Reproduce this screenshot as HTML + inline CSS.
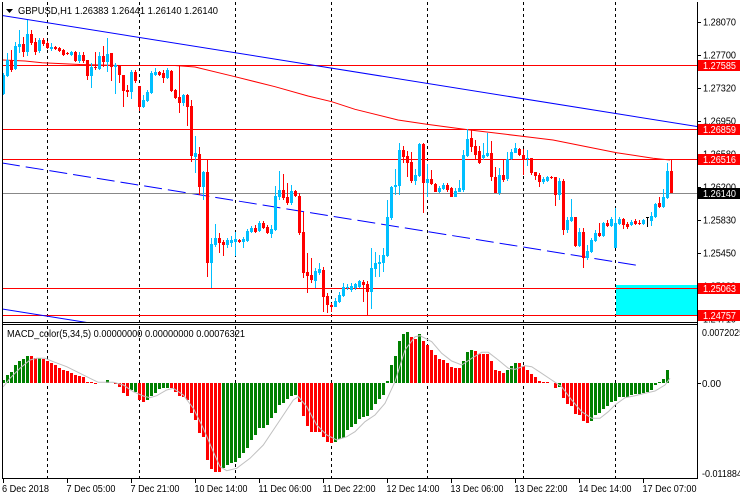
<!DOCTYPE html>
<html>
<head>
<meta charset="utf-8">
<style>
html,body{margin:0;padding:0;background:#fff;}
body{width:740px;height:500px;overflow:hidden;}
svg{display:block;}
text{font-family:"Liberation Sans","DejaVu Sans",sans-serif;}
</style>
</head>
<body>
<svg id="chart" width="740" height="500" viewBox="0 0 740 500" xmlns="http://www.w3.org/2000/svg">
<defs>
<clipPath id="mainclip"><rect x="3" y="0" width="694" height="322"/></clipPath>
<clipPath id="macdclip"><rect x="3" y="325" width="694" height="153"/></clipPath>
<clipPath id="axisclip"><rect x="698" y="0" width="42" height="500"/></clipPath>
</defs>
<rect x="0" y="0" width="740" height="500" fill="#fff"/>

<!-- vertical dashed grid -->
<g stroke="#000" stroke-width="1" stroke-dasharray="3,3" shape-rendering="crispEdges">
<line x1="47.5" y1="2" x2="47.5" y2="478"/>
<line x1="139.5" y1="2" x2="139.5" y2="478"/>
<line x1="235.5" y1="2" x2="235.5" y2="478"/>
<line x1="331.5" y1="2" x2="331.5" y2="478"/>
<line x1="427.5" y1="2" x2="427.5" y2="478"/>
<line x1="523.5" y1="2" x2="523.5" y2="478"/>
<line x1="615.5" y1="2" x2="615.5" y2="478"/>
</g>

<g clip-path="url(#mainclip)">
<!-- cyan rectangle -->
<rect x="616" y="285" width="81" height="30" fill="#00FFFF"/>
<!-- horizontal red lines -->
<g stroke="#FF0000" stroke-width="1" shape-rendering="crispEdges">
<line x1="2" y1="65.5" x2="697" y2="65.5"/>
<line x1="2" y1="129.5" x2="697" y2="129.5"/>
<line x1="2" y1="159.5" x2="697" y2="159.5"/>
<line x1="2" y1="288.5" x2="697" y2="288.5"/>
<line x1="2" y1="315.5" x2="697" y2="315.5"/>
</g>
<!-- moving average -->
<polyline fill="none" stroke="#FF0000" stroke-width="1" points="2,60 25,61 42,62.7 80,64.5 120,65.5 175,65.5 195,67 235,76.7 275,86.7 308,96 331.7,101.7 355,109.3 398,120 426.7,124.3 470,130 520,136 553,140 586.7,146.7 616.7,152.7 653,158.3 670,160"/>
<!-- blue trend lines -->
<line x1="2" y1="15.5" x2="697" y2="126.5" stroke="#0000FF" stroke-width="1"/>
<line x1="2" y1="163" x2="641" y2="266" stroke="#0000FF" stroke-width="1" stroke-dasharray="18,6"/>
<line x1="2" y1="309" x2="90" y2="323" stroke="#0000FF" stroke-width="1"/>
<!-- current price line -->
<line x1="2" y1="193.5" x2="697" y2="193.5" stroke="#888888" stroke-width="1" shape-rendering="crispEdges"/>
<g id="candles" shape-rendering="crispEdges"></g>
</g>

<g clip-path="url(#macdclip)">
<g id="hist" shape-rendering="crispEdges"></g>
<polyline id="sig" fill="none" stroke="#C0C0C0" stroke-width="1" points=""/>
</g>

<!-- frames -->
<g stroke="#000" stroke-width="1" shape-rendering="crispEdges">
<line x1="2.5" y1="2" x2="2.5" y2="479"/>
<line x1="697.5" y1="2" x2="697.5" y2="479"/>
<line x1="2" y1="322.5" x2="698" y2="322.5"/>
<line x1="2" y1="324.5" x2="698" y2="324.5"/>
<line x1="2" y1="478.5" x2="698" y2="478.5"/>
<!-- price ticks -->
<line x1="697" y1="22.5" x2="701" y2="22.5"/>
<line x1="697" y1="55.5" x2="701" y2="55.5"/>
<line x1="697" y1="88.5" x2="701" y2="88.5"/>
<line x1="697" y1="121.5" x2="701" y2="121.5"/>
<line x1="697" y1="154.5" x2="701" y2="154.5"/>
<line x1="697" y1="187.5" x2="701" y2="187.5"/>
<line x1="697" y1="220.5" x2="701" y2="220.5"/>
<line x1="697" y1="253.5" x2="701" y2="253.5"/>
<line x1="697" y1="286.5" x2="701" y2="286.5"/>
<line x1="697" y1="319.5" x2="701" y2="319.5"/>
<line x1="697" y1="383.5" x2="701" y2="383.5"/>
<!-- time ticks -->
<line x1="3.5" y1="478" x2="3.5" y2="483"/>
<line x1="67.5" y1="478" x2="67.5" y2="483"/>
<line x1="131.5" y1="478" x2="131.5" y2="483"/>
<line x1="195.5" y1="478" x2="195.5" y2="483"/>
<line x1="259.5" y1="478" x2="259.5" y2="483"/>
<line x1="323.5" y1="478" x2="323.5" y2="483"/>
<line x1="387.5" y1="478" x2="387.5" y2="483"/>
<line x1="451.5" y1="478" x2="451.5" y2="483"/>
<line x1="515.5" y1="478" x2="515.5" y2="483"/>
<line x1="579.5" y1="478" x2="579.5" y2="483"/>
<line x1="643.5" y1="478" x2="643.5" y2="483"/>
</g>

<!-- header -->
<polygon points="6,9 13,9 9.5,13" fill="#000"/>
<text x="18" y="14" font-size="10.5" fill="#000" textLength="200" lengthAdjust="spacingAndGlyphs">GBPUSD,H1  1.26383 1.26441 1.26140 1.26140</text>
<text x="7" y="337" font-size="10" fill="#000" textLength="238" lengthAdjust="spacingAndGlyphs">MACD_color(5,34,5) 0.00000000 0.00000000 0.00076321</text>

<!-- price axis labels -->
<g clip-path="url(#axisclip)" font-size="10" fill="#000">
<text x="703" y="25.5" textLength="33" lengthAdjust="spacingAndGlyphs">1.28070</text>
<text x="703" y="58.5" textLength="33" lengthAdjust="spacingAndGlyphs">1.27700</text>
<text x="703" y="91.5" textLength="33" lengthAdjust="spacingAndGlyphs">1.27320</text>
<text x="703" y="124.5" textLength="33" lengthAdjust="spacingAndGlyphs">1.26950</text>
<text x="703" y="157.5" textLength="33" lengthAdjust="spacingAndGlyphs">1.26580</text>
<text x="703" y="190.5" textLength="33" lengthAdjust="spacingAndGlyphs">1.26200</text>
<text x="703" y="223.5" textLength="33" lengthAdjust="spacingAndGlyphs">1.25830</text>
<text x="703" y="256.5" textLength="33" lengthAdjust="spacingAndGlyphs">1.25450</text>
<text x="703" y="289.5" textLength="33" lengthAdjust="spacingAndGlyphs">1.25080</text>
<text x="703" y="322.5" textLength="33" lengthAdjust="spacingAndGlyphs">1.24710</text>

<rect x="698" y="60" width="42" height="11" fill="#FF0000"/>
<text x="703" y="69" fill="#fff" textLength="33" lengthAdjust="spacingAndGlyphs">1.27585</text>
<rect x="698" y="124" width="42" height="11" fill="#FF0000"/>
<text x="703" y="133" fill="#fff" textLength="33" lengthAdjust="spacingAndGlyphs">1.26859</text>
<rect x="698" y="154" width="42" height="11" fill="#FF0000"/>
<text x="703" y="163" fill="#fff" textLength="33" lengthAdjust="spacingAndGlyphs">1.26516</text>
<rect x="698" y="188" width="42" height="11" fill="#000"/>
<text x="703" y="197" fill="#fff" textLength="33" lengthAdjust="spacingAndGlyphs">1.26140</text>
<rect x="698" y="283" width="42" height="11" fill="#FF0000"/>
<text x="703" y="292" fill="#fff" textLength="33" lengthAdjust="spacingAndGlyphs">1.25063</text>
<rect x="698" y="310" width="42" height="11" fill="#FF0000"/>
<text x="703" y="319" fill="#fff" textLength="33" lengthAdjust="spacingAndGlyphs">1.24757</text>

<text x="702" y="336" textLength="47" lengthAdjust="spacingAndGlyphs">0.00720250</text>
<text x="702" y="387" textLength="19" lengthAdjust="spacingAndGlyphs">0.00</text>
<text x="702" y="477" textLength="50" lengthAdjust="spacingAndGlyphs">-0.01188400</text>
</g>

<!-- time labels -->
<g font-size="10" fill="#000">
<text x="2" y="492" textLength="47" lengthAdjust="spacingAndGlyphs">6 Dec 2018</text>
<text x="66.5" y="492" textLength="49" lengthAdjust="spacingAndGlyphs">7 Dec 05:00</text>
<text x="130.5" y="492" textLength="49" lengthAdjust="spacingAndGlyphs">7 Dec 21:00</text>
<text x="194.5" y="492" textLength="53" lengthAdjust="spacingAndGlyphs">10 Dec 14:00</text>
<text x="258.5" y="492" textLength="53" lengthAdjust="spacingAndGlyphs">11 Dec 06:00</text>
<text x="322.5" y="492" textLength="53" lengthAdjust="spacingAndGlyphs">11 Dec 22:00</text>
<text x="386.5" y="492" textLength="53" lengthAdjust="spacingAndGlyphs">12 Dec 14:00</text>
<text x="450.5" y="492" textLength="53" lengthAdjust="spacingAndGlyphs">13 Dec 06:00</text>
<text x="514.5" y="492" textLength="53" lengthAdjust="spacingAndGlyphs">13 Dec 22:00</text>
<text x="578.5" y="492" textLength="53" lengthAdjust="spacingAndGlyphs">14 Dec 14:00</text>
<text x="642.5" y="492" textLength="54" lengthAdjust="spacingAndGlyphs">17 Dec 07:00</text>
</g>
</svg>

<script>
(function(){
var C=[
['c',75,94,73,95],['c',60,76,53,77],['r',60,70,50,72],['c',46,69,42,70],['c',44,47,30,53],
['r',44,52,37,57],['c',34,52,20,56],['r',34,43,30,45],['r',42,52,38,55],['c',40,51,38,53],
['r',40,44,38,46],['r',43,48,41,49],['c',47,49,43,51],['r',47,49,46,50],['r',48,51,47,52],
['r',50,55,49,56],['r',53,54,52,55],['c',52,55,51,56],['r',52,61,51,62],['c',55,61,52,63],
['r',55,61,52,63],['r',60,76,60,80],['c',67,76,63,88],['r',67,68,52,70],['c',56,69,52,70],
['r',56,62,46,67],['c',54,62,38,72],['r',53,67,53,81],['c',65,67,63,94],['r',65,75,65,83],
['r',75,91,75,107],['r',90,92,85,97],['c',72,92,70,99],['r',72,81,70,83],['r',86,107,86,111],
['c',100,107,95,108],['c',92,101,90,102],['c',73,93,71,94],['c',72,75,68,76],['r',72,75,71,76],
['r',73,78,70,83],['c',70,78,68,79],['r',71,91,70,92],['r',90,98,89,99],['r',97,103,65,113],
['c',95,103,94,106],['r',95,107,94,126],['r',106,156,100,162],['c',153,157,136,173],['r',154,187,147,195],
['c',172,187,171,200],['r',172,263,160,277],['c',244,263,238,288],['c',238,245,224,247],['r',238,243,233,253],
['r',242,245,240,256],['c',240,245,238,248],['c',240,243,236,247],['c',239,242,232,256],['r',240,242,239,243],
['c',239,242,237,248],['c',231,241,229,242],['c',228,232,226,233],['r',228,232,225,233],['c',223,231,221,232],
['r',223,228,221,229],['r',227,233,225,234],['c',229,234,225,238],['c',196,230,186,231],['c',190,197,171,200],
['r',190,198,174,200],['r',197,203,183,205],['c',191,203,185,205],['r',191,196,190,197],['r',196,233,193,235],
['r',232,273,212,278],['r',272,276,253,293],['r',275,280,258,283],['c',271,281,268,288],['c',269,273,263,275],
['r',270,297,267,312],['r',296,305,293,313],['r',305,307,303,312],['c',301,307,298,307],['c',295,302,292,303],
['c',287,296,283,297],['c',287,288,284,290],['c',286,290,283,292],['c',284,288,283,290],['c',281,287,280,288],
['r',282,285,280,302],['r',284,292,281,315],['c',268,292,248,309],['c',263,269,252,277],['c',262,264,255,277],
['c',255,263,248,272],['c',217,256,200,257],['c',187,218,186,220],['c',185,187,169,195],['c',150,186,143,195],
['r',150,157,146,163],['r',156,163,151,177],['r',162,181,152,183],['c',175,181,169,185],['c',144,176,143,177],
['r',144,183,143,213],['c',179,183,164,197],['r',179,184,170,185],['r',184,192,183,192],['c',188,192,186,193],
['c',185,189,183,190],['r',185,190,183,192],['r',188,197,187,197],['c',191,197,188,197],['c',188,192,180,192],
['c',155,190,150,192],['c',139,156,129,157],['r',138,147,129,152],['r',146,155,140,160],['r',151,163,146,164],
['c',155,158,143,160],['c',153,156,133,157],['r',153,177,141,181],['r',177,193,167,193],['c',175,193,168,195],
['r',175,180,159,182],['c',159,179,152,181],['c',152,159,149,160],['c',148,153,143,153],['r',149,155,148,156],
['r',155,159,149,175],['c',158,159,150,166],['r',158,173,158,175],['r',172,176,172,180],['r',175,182,173,187],
['c',179,182,177,184],['c',177,181,176,182],['r',177,178,176,179],['r',177,195,177,206],['c',181,195,178,200],
['r',181,230,179,235],['c',220,230,217,233],['c',217,221,199,222],['r',217,246,217,247],['c',232,246,228,247],
['r',232,258,228,268],['c',251,258,245,260],['c',240,252,238,253],['c',233,241,230,242],['r',233,236,223,237],
['c',223,236,222,237],['r',223,226,220,227],['c',219,226,217,227],['c',223,248,208,248],['c',219,224,217,225],
['r',219,225,218,229],['r',224,227,222,229],['c',222,225,220,226],['r',221,224,219,225],['r',223,224,220,225],
['c',220,224,219,225],['k',217,218,217,227],['c',216,221,212,226],['c',204,217,203,218],['r',203,207,197,208],
['c',197,207,189,208],['c',171,198,163,199],['r',171,193,160,193]
];
var s='';
for(var i=0;i<C.length;i++){
  var b=C[i];
  var col=b[0]=='c'?'#00BFFF':(b[0]=='r'?'#FF0000':'#000000');
  var x=2+4*i;
  s+='<rect x="'+(x+1)+'" y="'+b[3]+'" width="1" height="'+Math.max(1,b[4]-b[3])+'" fill="'+col+'"/>';
  s+='<rect x="'+x+'" y="'+b[1]+'" width="3" height="'+Math.max(1,b[2]-b[1])+'" fill="'+col+'"/>';
}
document.getElementById('candles').innerHTML=s;

var M="g165 g150 g142 g120 g108 g102 g93 r93 r100 g100 r103 r108 r115 r120 r128 r135 r138 r145 r150 r152 r155 r170 r172 r178 r175 r174 g166 g173 r177 r185 r205 r213 g195 g200 r225 r230 g225 g213 g205 g192 g190 g190 r190 r200 r213 r215 r225 r265 r285 r325 r335 r405 r432 r440 r442 g430 g420 g413 g410 g400 g385 g370 g345 g330 g310 g308 g300 g280 g265 g240 g233 g222 g212 g210 r230 r272 r302 r322 r322 r322 r335 r350 r355 g352 g342 g340 g315 g305 g297 g282 g275 g272 g255 g237 g222 g210 g168 g120 g93 g48 g27 g21 r36 r42 g28 r48 r60 r75 r90 r102 r105 r115 r126 r129 r129 g108 g81 g75 r78 r87 r87 r87 r108 r135 r138 r145 g135 g123 g114 r114 r123 r135 r147 r157 r168 r171 r172 r175 r188 g185 r220 r237 r242 r267 r270 r287 r293 g287 g270 g265 g252 g242 g232 g228 g217 g215 g215 g210 g207 g207 g203 g202 g195 g180 g172 g162 g135".split(' ');
var h='';var zero=383;
for(var k=0;k<M.length;k++){
  var c=M[k].charAt(0)=='g'?'#008000':'#FF0000';
  var z=parseFloat(M[k].substr(1));
  var y=325+z/3;
  var top=Math.min(y,zero),ht=Math.abs(y-zero);
  if(ht<0.4) continue;
  ht=Math.max(1,Math.round(ht));
  top=(y<zero)?zero-ht:zero;
  h+='<rect x="'+(2+4*k)+'" y="'+top+'" width="3" height="'+ht+'" fill="'+c+'"/>';
}
document.getElementById('hist').innerHTML=h;

var P=[[3.3,386.7],[10,378.3],[20,368.3],[30,360],[36.7,358.3],[45,358.3],[53.3,361.7],[66.7,366.7],[80,373.3],[90,378.3],[98.3,382.3],[113.3,382.3],[123.3,385],[133.3,391.7],[143.3,396],[150,397.7],[156.7,395.7],[166.7,390],[173.3,388.3],[183.3,395],[193.3,408.3],[203.3,428.3],[213.3,451.7],[220,466.7],[226.7,470.7],[236.7,468.3],[250,458.3],[263.3,445],[276.7,425],[286.7,410],[293.3,400],[298.3,396.7],[306.7,406.7],[316.7,425],[326.7,435],[336.7,440],[346.7,436.7],[355,431.7],[365,421.7],[375,415],[385,403.3],[395,381.7],[405,350],[415,336.7],[420,335.7],[431.7,341.7],[441.7,353.3],[451.7,361],[461.7,365],[471.7,358.3],[481.7,352.3],[488.3,352.3],[498.3,360],[508.3,368.3],[515,369.3],[525,365.7],[531.7,366.7],[541.7,373.3],[551.7,380],[561.7,386.7],[571.7,400],[581.7,411.7],[591.7,418.3],[600,418.3],[608.3,411.7],[615,405],[625,397.7],[635,395.7],[645,393.3],[655,391],[665,385],[670,378.3]];
document.getElementById('sig').setAttribute('points',P.map(function(p){return p[0]+','+p[1];}).join(' '));
})();
</script>
</body>
</html>
